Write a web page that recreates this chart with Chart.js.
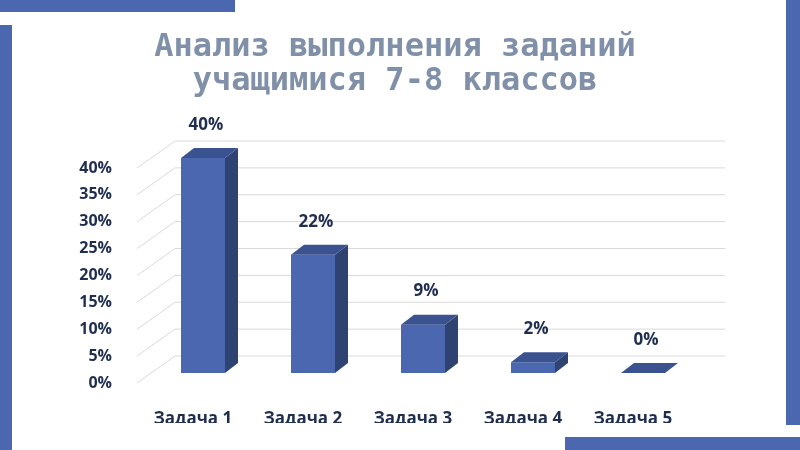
<!DOCTYPE html>
<html>
<head>
<meta charset="utf-8">
<script src="https://cdn.jsdelivr.net/npm/chart.js@4"></script>
<style>body{margin:0;background:#fff}#c{display:block}</style>
</head>
<body>
<div style="width:800px;height:450px"><canvas id="c"></canvas></div>
<script>
// данные
const categories = ["Задача 1", "Задача 2", "Задача 3", "Задача 4", "Задача 5"];
const values = [40, 22, 9, 2, 0];
const yTicks = [0, 5, 10, 15, 20, 25, 30, 35, 40];
const titleLines = ["Анализ выполнения заданий", "учащимися 7-8 классов"];

const navy = "#1f2d4f";
const blue = "#4a67b0";

// рамка, заголовок и сетка
const fundo = {
  id: "fundo",
  beforeDatasetsDraw(chart) {
    const ctx = chart.ctx, y = chart.scales.y;
    ctx.save();
    ctx.fillStyle = blue;
    ctx.fillRect(0, 0, 235, 12);
    ctx.fillRect(0, 25, 12, 425);
    ctx.fillRect(565, 437, 235, 13);
    ctx.fillRect(786, 0, 14, 425);
    ctx.fillStyle = "#8090a8";
    ctx.font = "bold 32px 'DejaVu Sans Mono'";
    ctx.textAlign = "center";
    ctx.textBaseline = "middle";
    titleLines.forEach((t, i) => ctx.fillText(t, 395, 48 + i * 34));
    ctx.strokeStyle = "#d9d9d9";
    ctx.lineWidth = 1;
    yTicks.forEach(v => {
      const yf = y.getPixelForValue(v);
      ctx.beginPath();
      ctx.moveTo(137, yf + 10);
      ctx.lineTo(175, yf - 17);
      ctx.lineTo(725, yf - 17);
      ctx.stroke();
    });
    ctx.restore();
  },
  afterDatasetsDraw(chart) {
    const ctx = chart.ctx;
    const dx = 13, dy = 10;
    ctx.save();
    chart.getDatasetMeta(0).data.forEach((bar, i) => {
      const l = bar.x - bar.width / 2, r = bar.x + bar.width / 2;
      const top = bar.y, base = bar.base;
      ctx.fillStyle = "#2f4373";
      ctx.beginPath();
      ctx.moveTo(r, top); ctx.lineTo(r + dx, top - dy);
      ctx.lineTo(r + dx, base - dy); ctx.lineTo(r, base);
      ctx.closePath(); ctx.fill();
      ctx.fillStyle = "#3a5290";
      ctx.beginPath();
      ctx.moveTo(l, top); ctx.lineTo(l + dx, top - dy);
      ctx.lineTo(r + dx, top - dy); ctx.lineTo(r, top);
      ctx.closePath(); ctx.fill();
      ctx.fillStyle = navy;
      ctx.font = "bold 17px 'Open Sans'";
      ctx.textAlign = "center";
      ctx.textBaseline = "middle";
      ctx.fillText(values[i] + "%", bar.x + 3, top - 33);
    });
    ctx.restore();
  }
};

new Chart(document.getElementById("c"), {
  type: "bar",
  data: {
    labels: categories,
    datasets: [{ data: values, backgroundColor: blue, borderWidth: 0,
      barPercentage: 0.4, categoryPercentage: 1 }]
  },
  options: {
    responsive: true,
    maintainAspectRatio: false,
    animation: false,
    layout: { padding: { top: 158, right: 102, bottom: 27, left: 0 } },
    plugins: { legend: { display: false }, tooltip: { enabled: false } },
    scales: {
      x: {
        grid: { display: false }, border: { display: false },
        ticks: { color: navy, font: { family: "Open Sans", size: 17, weight: "bold" }, padding: 28, labelOffset: -10 },
        afterFit(s) { s.height = 50; }
      },
      y: {
        min: 0, max: 40,
        grid: { display: false }, border: { display: false },
        afterBuildTicks(s) { s.ticks = yTicks.map(v => ({ value: v })); },
        ticks: { color: navy, font: { family: "Open Sans", size: 16, weight: "bold" },
          callback: v => v + "%", padding: 28, labelOffset: 10 },
        afterFit(s) { s.width = 148; }
      }
    }
  },
  plugins: [fundo]
});
</script>
</body>
</html>
